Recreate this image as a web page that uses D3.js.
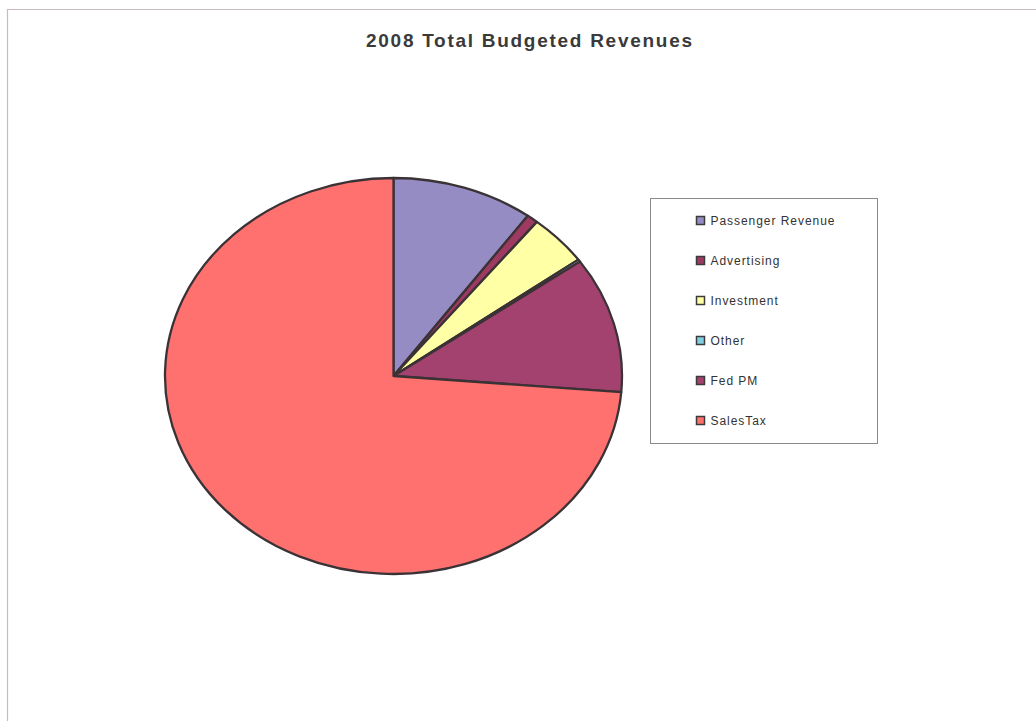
<!DOCTYPE html>
<html>
<head>
<meta charset="utf-8">
<script src="https://cdn.jsdelivr.net/npm/d3@7"></script>
<style>
  html, body { margin: 0; padding: 0; background: #fff; }
  svg { display: block; }
</style>
</head>
<body>
<svg id="chart" width="1036" height="721"></svg>
<script>
// Revenue sources, share of the 2008 budget (percent)
const categories = ["Passenger Revenue", "Advertising", "Investment", "Other", "Fed PM", "SalesTax"];
const shares = [10.0, 0.8, 4.2, 0.2, 11.1, 73.7];
const sliceColors = ["#968cc4", "#9e3a62", "#ffffa6", "#7fcfe0", "#a3426e", "#ff716f"];
const titleText = "2008 Total Budgeted Revenues";

const svg = d3.select("#chart");

// chart area frame (top and left edges)
svg.append("path")
  .attr("d", "M7.5,721 V9.5 H1036")
  .attr("fill", "none")
  .attr("stroke", "#c9b8bc")
  .attr("stroke-width", 1.2);

// title
svg.append("text")
  .attr("x", 529)
  .attr("y", 47)
  .attr("text-anchor", "middle")
  .attr("font-family", "Arial, 'Liberation Sans', sans-serif")
  .attr("font-weight", "bold")
  .attr("font-size", 19)
  .attr("textLength", 326)
  .attr("lengthAdjust", "spacing")
  .attr("fill", "#3a3a3a")
  .text(titleText);

// pie, drawn on a circle and stretched horizontally into an ellipse
const cx = 393.5, cy = 376, rx = 228.5, ry = 198;
const data = categories.map((c, i) => ({ name: c, value: shares[i], color: sliceColors[i] }));
const pie = d3.pie().sort(null).value(d => d.value).startAngle(0).endAngle(2 * Math.PI);
const arc = d3.arc().innerRadius(0).outerRadius(ry);

const g = svg.append("g")
  .attr("transform", `translate(${cx},${cy}) scale(${rx / ry},1)`);

g.selectAll("path.slice")
  .data(pie(data))
  .join("path")
  .attr("class", "slice")
  .attr("d", arc)
  .attr("fill", d => d.data.color)
  .attr("stroke", "#3b3236")
  .attr("stroke-width", 2.3)
  .attr("stroke-linejoin", "round")
  .attr("vector-effect", "non-scaling-stroke");

// legend
const legend = svg.append("g").attr("transform", "translate(650.5,198.5)");
legend.append("rect")
  .attr("width", 227)
  .attr("height", 245)
  .attr("fill", "#fff")
  .attr("stroke", "#8a8a8a")
  .attr("stroke-width", 1);

const rowY = d3.scalePoint().domain(categories).range([22, 222]);
const items = legend.selectAll("g.item")
  .data(data)
  .join("g")
  .attr("class", "item")
  .attr("transform", d => `translate(0,${rowY(d.name)})`);

items.append("rect")
  .attr("x", 46)
  .attr("y", -4)
  .attr("width", 8)
  .attr("height", 8)
  .attr("fill", d => d.color)
  .attr("stroke", "#3b3b3b")
  .attr("stroke-width", 1.5);

items.append("text")
  .attr("x", 60)
  .attr("y", 4.5)
  .attr("font-family", "Arial, 'Liberation Sans', sans-serif")
  .attr("font-size", 12)
  .attr("letter-spacing", 0.95)
  .attr("fill", "#333")
  .text(d => d.name);
</script>
</body>
</html>
